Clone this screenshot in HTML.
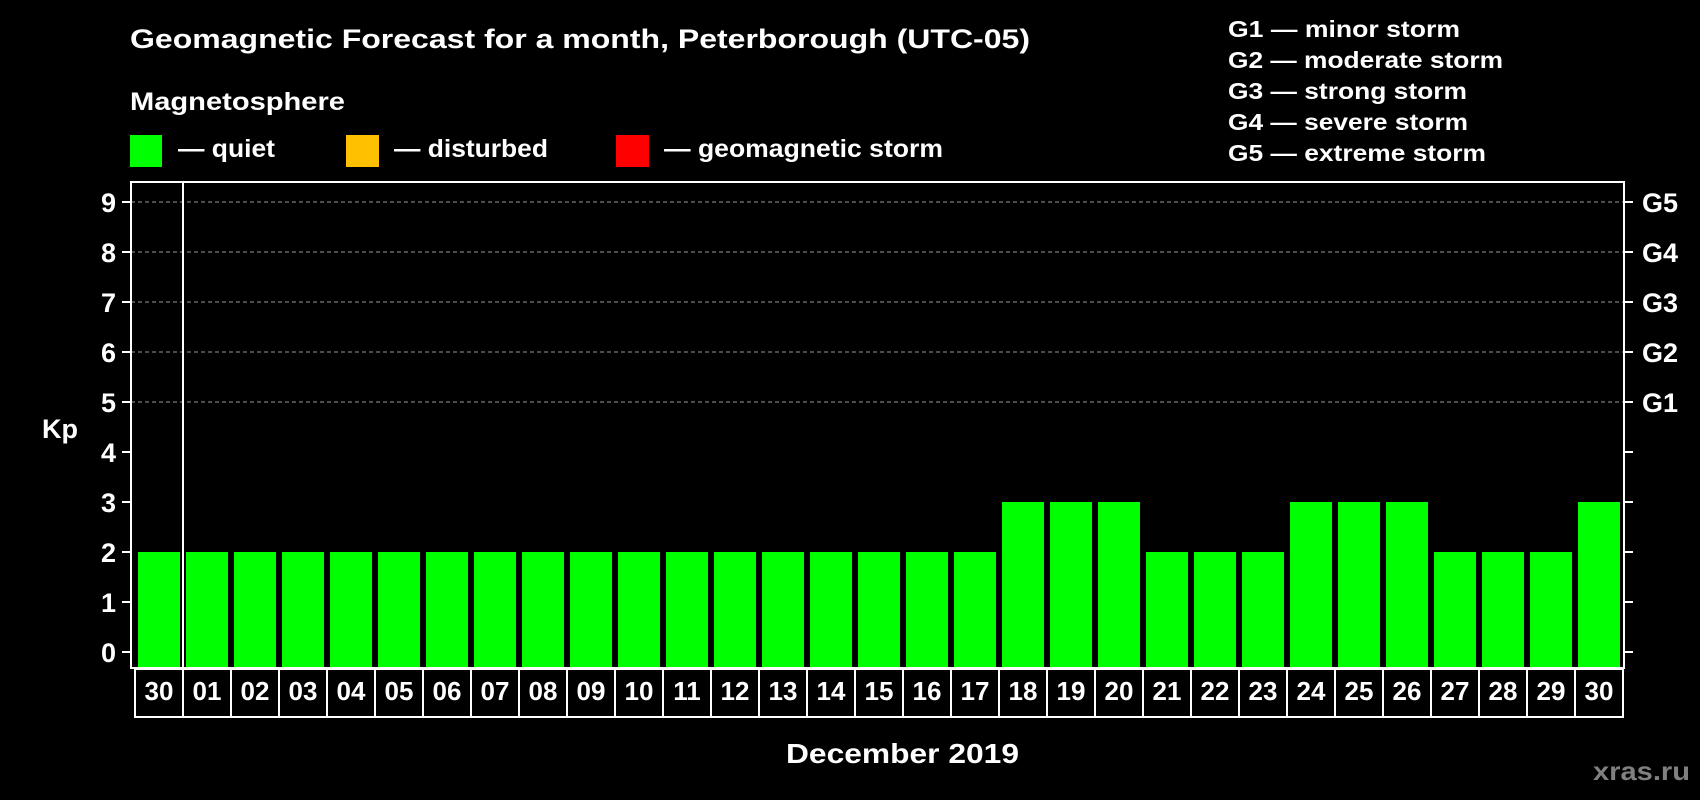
<!DOCTYPE html>
<html><head><meta charset="utf-8"><style>
html,body{margin:0;padding:0;background:#000;}
svg{display:block;font-family:"Liberation Sans",Arial,sans-serif;font-weight:bold;}
</style></head><body>
<svg id="chart" width="1700" height="800" viewBox="0 0 1700 800" xmlns="http://www.w3.org/2000/svg">
<rect x="0" y="0" width="1700" height="800" fill="#000"/>
<text x="130" y="48" fill="#fff" font-size="27" textLength="900" lengthAdjust="spacingAndGlyphs">Geomagnetic Forecast for a month, Peterborough (UTC-05)</text>
<text x="130" y="110" fill="#fff" font-size="25" textLength="215" lengthAdjust="spacingAndGlyphs">Magnetosphere</text>
<rect x="130" y="135" width="32" height="32" fill="#00ff00"/>
<text x="178" y="157" fill="#fff" font-size="25" textLength="97" lengthAdjust="spacingAndGlyphs">— quiet</text>
<rect x="346" y="135" width="33" height="32" fill="#ffc000"/>
<text x="394" y="157" fill="#fff" font-size="25" textLength="154" lengthAdjust="spacingAndGlyphs">— disturbed</text>
<rect x="616" y="135" width="33" height="32" fill="#ff0000"/>
<text x="664" y="157" fill="#fff" font-size="25" textLength="279" lengthAdjust="spacingAndGlyphs">— geomagnetic storm</text>
<g fill="#fff" font-size="23">
<text x="1228" y="37" textLength="232" lengthAdjust="spacingAndGlyphs">G1 — minor storm</text>
<text x="1228" y="68" textLength="275" lengthAdjust="spacingAndGlyphs">G2 — moderate storm</text>
<text x="1228" y="99" textLength="239" lengthAdjust="spacingAndGlyphs">G3 — strong storm</text>
<text x="1228" y="130" textLength="240" lengthAdjust="spacingAndGlyphs">G4 — severe storm</text>
<text x="1228" y="161" textLength="258" lengthAdjust="spacingAndGlyphs">G5 — extreme storm</text>
</g>
<text x="42" y="438" fill="#fff" font-size="27">Kp</text>
<text x="786" y="763" fill="#fff" font-size="28" textLength="233" lengthAdjust="spacingAndGlyphs">December 2019</text>
<text x="1593" y="780" fill="#808080" font-size="26" textLength="97" lengthAdjust="spacingAndGlyphs">xras.ru</text>
<g id="grid"></g><g id="bars"></g><g id="axes"></g><g id="dates"></g>
</svg>
<script>
const days = ["30","01","02","03","04","05","06","07","08","09","10","11","12","13","14","15","16","17","18","19","20","21","22","23","24","25","26","27","28","29","30"];
const kpValues = [2,2,2,2,2,2,2,2,2,2,2,2,2,2,2,2,2,2,3,3,3,2,2,2,3,3,3,2,2,2,3];
const yTicks = [0,1,2,3,4,5,6,7,8,9];
const gLabels = ["G1","G2","G3","G4","G5"];
const gLevels = [5,6,7,8,9];

const NS="http://www.w3.org/2000/svg";
const pL=131,pR=1624,pT=182,pB=668;
const y0=652,unit=50;
const yScale=v=>y0-v*unit;
const x0=138,pitch=48,bw=42;
const xScale=i=>x0+i*pitch;
function mk(tag,attrs,parent,text){const e=document.createElementNS(NS,tag);for(const k in attrs)e.setAttribute(k,attrs[k]);if(text!==undefined)e.textContent=text;parent.appendChild(e);return e;}
const gridG=document.getElementById('grid'),barsG=document.getElementById('bars'),axesG=document.getElementById('axes'),datesG=document.getElementById('dates');

gLevels.forEach((lv,i)=>{
  const l=mk('line',{x1:pL,x2:pR,y1:yScale(lv),y2:yScale(lv),stroke:'#999','stroke-width':1,'stroke-dasharray':'4,3'},gridG);
  
  
  const t=mk('text',{x:1642,y:yScale(lv)+10,fill:'#fff','font-size':27},axesG,gLabels[i]);
  
  
});

kpValues.forEach((v,i)=>{
  const c=v>=5?'#ff0000':(v>=4?'#ffc000':'#00ff00');
  const r=mk('rect',{x:xScale(i),y:yScale(v),width:bw,height:(y0-yScale(v))+(pB-y0-1),fill:c},barsG);
  
  
});

const frame=mk('rect',{x:pL,y:pT,width:pR-pL,height:pB-pT,fill:'none',stroke:'#fff','stroke-width':2},axesG);


const div=mk('line',{x1:183,x2:183,y1:pT,y2:pB,stroke:'#fff','stroke-width':2},axesG);



yTicks.forEach(v=>{
  const y=yScale(v);
  const a=mk('line',{x1:122,x2:pL,y1:y,y2:y,stroke:'#fff','stroke-width':2},axesG);
  
  
  const b=mk('line',{x1:pR,x2:1633,y1:y,y2:y,stroke:'#fff','stroke-width':2},axesG);
  
  
  const t=mk('text',{x:116,y:y+10,fill:'#fff','font-size':27,'text-anchor':'end'},axesG,String(v));
  
  
});

const box=mk('rect',{x:135,y:669,width:xScale(days.length-1)+bw+3-135,height:48,fill:'none',stroke:'#fff','stroke-width':2},datesG);


days.forEach((d,i)=>{
  if(i>0){
    const l=mk('line',{x1:xScale(i)-3,x2:xScale(i)-3,y1:669,y2:717,stroke:'#fff','stroke-width':2},datesG);
    
    
  }
  const t=mk('text',{x:xScale(i)+bw/2,y:700,fill:'#fff','font-size':26,'text-anchor':'middle'},datesG,d);
  
  
});
</script>
</body></html>
